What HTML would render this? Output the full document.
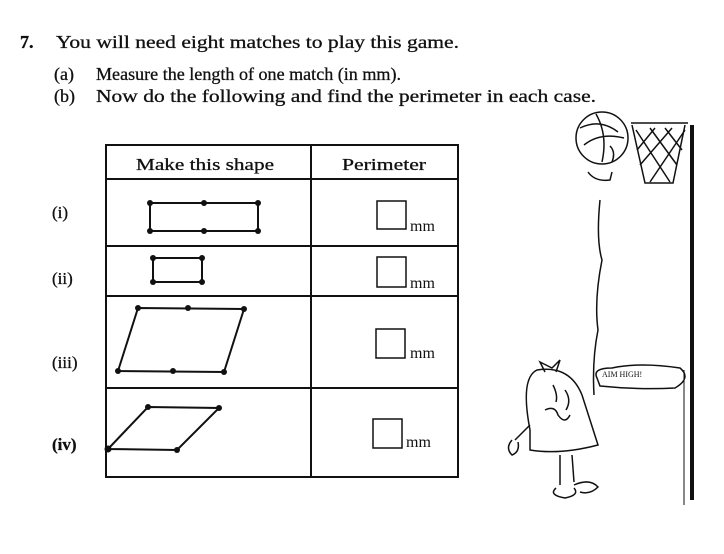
<!DOCTYPE html>
<html><head><meta charset="utf-8"><style>
html,body{margin:0;padding:0;background:#fff;}
svg{display:block;}
text{font-family:"Liberation Serif",serif;fill:#111;}
</style></head><body>
<svg width="724" height="554" viewBox="0 0 724 554" xmlns="http://www.w3.org/2000/svg">
<rect width="724" height="554" fill="#fff"/>
<g font-size="18" stroke="#111" stroke-width="0.3">
<text x="20" y="48" font-weight="bold">7.</text>
<text x="56" y="48" textLength="403" lengthAdjust="spacingAndGlyphs">You will need eight matches to play this game.</text>
<text x="54" y="80">(a)</text>
<text x="96" y="80" textLength="305" lengthAdjust="spacingAndGlyphs">Measure the length of one match (in mm).</text>
<text x="54" y="102">(b)</text>
<text x="96" y="102" textLength="500" lengthAdjust="spacingAndGlyphs">Now do the following and find the perimeter in each case.</text>
</g>
<g stroke="#111" stroke-width="2" fill="none">
<rect x="106" y="145" width="352" height="332"/>
<line x1="106" y1="179" x2="458" y2="179"/>
<line x1="106" y1="246" x2="458" y2="246"/>
<line x1="106" y1="296" x2="458" y2="296"/>
<line x1="106" y1="388" x2="458" y2="388"/>
<line x1="311" y1="145" x2="311" y2="477"/>
</g>
<g font-size="17" stroke="#111" stroke-width="0.3">
<text x="136" y="170" textLength="138" lengthAdjust="spacingAndGlyphs">Make this shape</text>
<text x="342" y="170" textLength="84" lengthAdjust="spacingAndGlyphs">Perimeter</text>
<text x="52" y="218">(i)</text>
<text x="52" y="284">(ii)</text>
<text x="52" y="368">(iii)</text>
<text x="52" y="450" font-weight="bold">(iv)</text>
</g>
<g stroke="#111" stroke-width="2" fill="none">
<polygon points="150,203 258,203 258,231 150,231"/>
<polygon points="153,258 202,258 202,282 153,282"/>
<polygon points="138,308 244,309 224,372 118,371"/>
<polygon points="148,407 219,408 177,450 108,449"/>
</g>
<g fill="#111">
<circle cx="150" cy="203" r="3"/><circle cx="204" cy="203" r="3"/><circle cx="258" cy="203" r="3"/>
<circle cx="150" cy="231" r="3"/><circle cx="204" cy="231" r="3"/><circle cx="258" cy="231" r="3"/>
<circle cx="153" cy="258" r="3"/><circle cx="202" cy="258" r="3"/><circle cx="153" cy="282" r="3"/><circle cx="202" cy="282" r="3"/>
<circle cx="138" cy="308" r="3"/><circle cx="188" cy="308" r="3"/><circle cx="244" cy="309" r="3"/>
<circle cx="118" cy="371" r="3"/><circle cx="173" cy="371" r="3"/><circle cx="224" cy="372" r="3"/>
<circle cx="148" cy="407" r="3"/><circle cx="219" cy="408" r="3"/><circle cx="177" cy="450" r="3"/><circle cx="108" cy="449" r="3.5"/>
</g>
<g stroke="#111" stroke-width="1.5" fill="none">
<rect x="377" y="201" width="29" height="28"/>
<rect x="377" y="257" width="29" height="30"/>
<rect x="376" y="329" width="29" height="29"/>
<rect x="373" y="419" width="29" height="29"/>
</g>
<g font-size="16">
<text x="410" y="231">mm</text>
<text x="410" y="288">mm</text>
<text x="410" y="358">mm</text>
<text x="406" y="447">mm</text>
</g>
<!-- cartoon -->
<g stroke="#111" stroke-width="1.5" fill="none">
<circle cx="602" cy="138" r="26"/>
<path d="M580 128 Q600 118 618 132 M584 145 Q600 132 624 138 M596 114 Q608 135 602 162 M610 146 Q616 152 612 162"/>
<path d="M631 123 L688 123 M632 125 L645 183 L673 183 L685 125"/>
<path d="M636 130 L670 182 M650 128 L677 165 M665 128 L682 150 M685 130 L650 182 M672 128 L640 165 M655 128 L637 150"/>
<path d="M588 172 Q595 182 610 180 L612 172"/>
<path d="M600 200 Q596 240 602 260 Q594 300 598 330 Q592 360 594 395"/>
<path d="M597 378 Q592 368 612 368 Q640 362 680 368 Q692 378 675 388 Q640 390 600 386 Z"/>
<path d="M537 370 Q520 378 530 430 L530 450 Q560 455 598 445 Q590 420 582 395 Q570 365 537 370 Z"/>
<path d="M545 372 L540 362 L552 368 L560 360 L556 372"/>
<path d="M553 385 Q558 395 556 402 M565 390 Q572 400 566 410 M545 410 Q555 405 558 415 Q565 425 570 415"/>
<path d="M530 425 L515 440 M512 440 Q505 448 512 455 Q520 452 518 442"/>
<path d="M560 455 L560 485 M572 455 L574 482 M556 488 Q548 495 565 498 Q580 495 574 488 M574 485 Q590 478 598 487 Q590 495 580 492"/>
</g>
<text x="602" y="377" font-size="8" font-family="Liberation Sans,sans-serif">AIM HIGH!</text>
<rect x="690" y="125" width="4" height="375" fill="#111"/>
<line x1="684" y1="370" x2="684" y2="505" stroke="#111" stroke-width="1"/>
</svg>
</body></html>
